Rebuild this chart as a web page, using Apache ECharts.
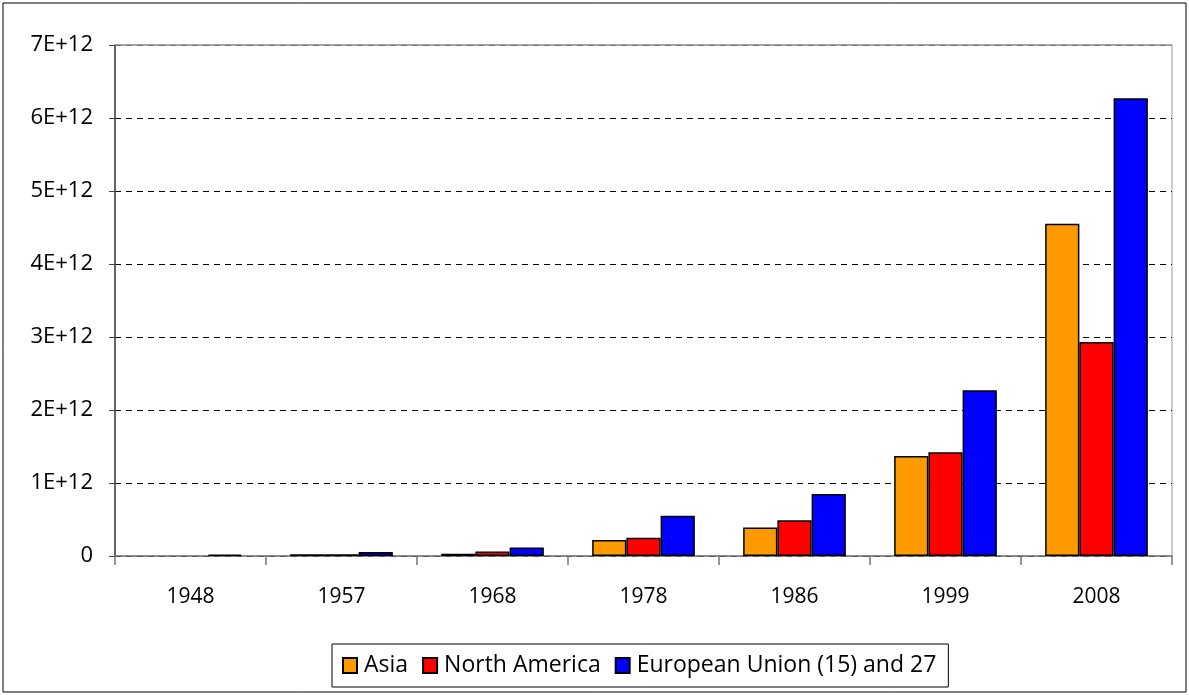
<!DOCTYPE html>
<html>
<head>
<meta charset="utf-8">
<script src="https://cdn.jsdelivr.net/npm/echarts@6/dist/echarts.min.js"></script>
<style>
  html, body { margin: 0; padding: 0; background: #fff; }
  #chart { width: 1189px; height: 695px; }
</style>
</head>
<body>
<div id="chart"></div>
<script>
// years on the x axis
var years = ['1948', '1957', '1968', '1978', '1986', '1999', '2008'];
// values (1948: no visible bar for Asia / North America)
var asia = [null, 0.025e12, 0.03e12, 0.22e12, 0.39e12, 1.37e12, 4.55e12];
var northAmerica = [null, 0.025e12, 0.06e12, 0.25e12, 0.49e12, 1.42e12, 2.93e12];
var europeanUnion = [0.02e12, 0.055e12, 0.115e12, 0.55e12, 0.85e12, 2.27e12, 6.27e12];

var font = 'Open Sans';
var chart = echarts.init(document.getElementById('chart'));

function barSeries(name, data, color) {
    return {
        name: name,
        type: 'bar',
        data: data,
        barGap: 0,
        barCategoryGap: '32%',
        itemStyle: {
            color: color,
            borderColor: '#000',
            borderWidth: 1.5
        },
        emphasis: { disabled: true }
    };
}

var option = {
    backgroundColor: '#fff',
    animation: false,
    textStyle: { fontFamily: font },
    graphic: [{
        type: 'rect',
        shape: { x: 3, y: 3, width: 1183, height: 689 },
        style: { fill: null, stroke: '#000', lineWidth: 1 },
        z: -1
    }, {
        // plot area top border, solid grey over the last dashed line
        type: 'line',
        shape: { x1: 115, y1: 45, x2: 1172, y2: 45 },
        style: { stroke: '#999', lineWidth: 1.5 },
        z: 100
    }],
    legend: {
        bottom: 8,
        left: 332,
        icon: 'rect',
        itemWidth: 14,
        itemHeight: 15,
        itemGap: 14,
        padding: [10, 12, 10, 10],
        borderColor: '#000',
        borderWidth: 1,
        textStyle: { fontSize: 23, color: '#000', fontFamily: font, padding: [0, 0, 0, 2] },
        data: ['Asia', 'North America', 'European Union (15) and 27']
    },
    grid: {
        left: 115,
        right: 17,
        top: 45,
        bottom: 139,
        show: true,
        borderColor: '#999',
        borderWidth: 1
    },
    xAxis: {
        type: 'category',
        data: years,
        axisLine: { lineStyle: { color: '#777', width: 1.5 } },
        axisTick: { show: true, length: 9, lineStyle: { color: '#777', width: 1.5 } },
        axisLabel: { color: '#000', fontSize: 21, margin: 31, fontFamily: font }
    },
    yAxis: {
        type: 'value',
        min: 0,
        max: 7e12,
        interval: 1e12,
        axisLine: { show: true, lineStyle: { color: '#444', width: 1.5 } },
        axisTick: { show: true, length: 6, lineStyle: { color: '#444' } },
        axisLabel: {
            color: '#000',
            fontSize: 22,
            margin: 22,
            fontFamily: font,
            formatter: function (v) {
                return v === 0 ? '0' : (v / 1e12) + 'E+12';
            }
        },
        splitLine: { show: true, lineStyle: { color: '#000', type: [6, 5], width: 1 } }
    },
    series: [
        barSeries('Asia', asia, '#ff9900'),
        barSeries('North America', northAmerica, '#ff0000'),
        barSeries('European Union (15) and 27', europeanUnion, '#0000ff')
    ]
};

chart.setOption(option);
</script>
</body>
</html>
